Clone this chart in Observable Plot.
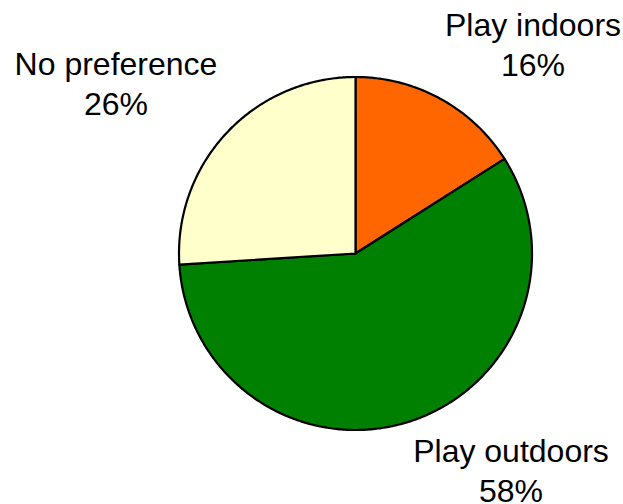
<!DOCTYPE html>
<html>
<head>
<meta charset="utf-8">
<script src="https://cdn.jsdelivr.net/npm/d3@7"></script>
<script src="https://cdn.jsdelivr.net/npm/@observablehq/plot@0.6"></script>
<style>
  html, body { margin: 0; padding: 0; background: #fff; }
  svg { display: block; }
</style>
</head>
<body>
<div id="chart"></div>
<script>
// ---- data ----
const categories = ["Play indoors", "Play outdoors", "No preference"];
const percents = [16, 58, 26];
const colors = ["#FF6600", "#008000", "#FFFFCC"];

// ---- layout (not data) ----
const W = 623, H = 504;
const cx = 355, cy = 253, r = 176.5;
const labelLayout = {
  "Play indoors": {x: 532.5, y: 75},
  "Play outdoors": {x: 510.5, y: 501},
  "No preference": {x: 115.5, y: 114}
};

// compute slice angles with d3.pie (clockwise from 12 o'clock, data order)
const pie = d3.pie().sort(null).value(d => d.value);
const arcs = pie(categories.map((c, i) => ({category: c, value: percents[i]})));

// outline points for each slice (center -> arc -> center)
const pts = [];
for (const a of arcs) {
  const c = a.data.category;
  pts.push({category: c, px: cx, py: cy});
  const n = Math.max(2, Math.ceil((a.endAngle - a.startAngle) / 0.01));
  for (let k = 0; k <= n; k++) {
    const t = a.startAngle + (a.endAngle - a.startAngle) * k / n;
    pts.push({category: c, px: cx + r * Math.sin(t), py: cy - r * Math.cos(t)});
  }
  pts.push({category: c, px: cx, py: cy});
}

const labels = categories.map((c, i) => ({
  text: `${c}\n${percents[i]}%`,
  lx: labelLayout[c].x,
  ly: labelLayout[c].y
}));

const chart = Plot.plot({
  width: W,
  height: H,
  margin: 0,
  x: {domain: [0, W], range: [0, W], axis: null},
  y: {domain: [0, H], range: [0, H], axis: null},
  color: {domain: categories, range: colors},
  style: {fontFamily: "'Liberation Sans', Arial, sans-serif", background: "#fff"},
  marks: [
    Plot.line(pts, {
      x: "px", y: "py", z: "category", fill: "category",
      stroke: "#000", strokeWidth: 2.2, strokeLinejoin: "round"
    }),
    Plot.text(labels, {
      x: "lx", y: "ly", text: "text",
      textAnchor: "middle", lineAnchor: "bottom", lineHeight: 1.22,
      fontSize: 32, fill: "#000"
    })
  ]
});
document.getElementById("chart").appendChild(chart);
</script>
</body>
</html>
